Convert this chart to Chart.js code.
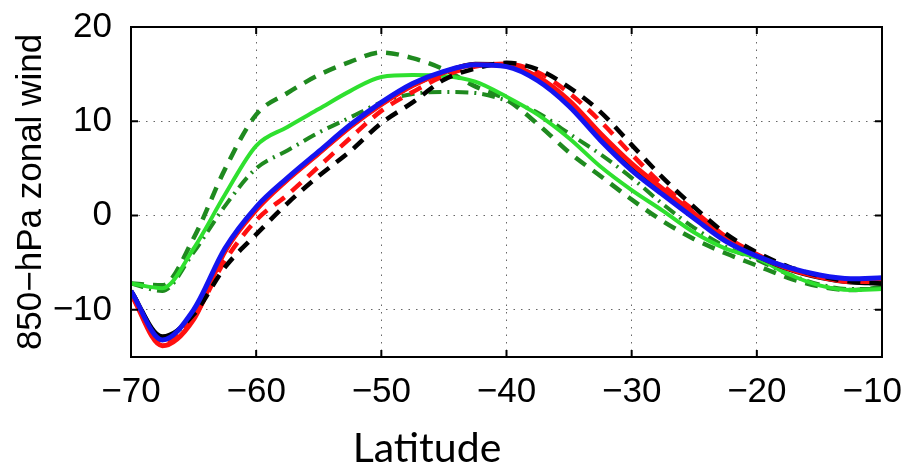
<!DOCTYPE html>
<html>
<head>
<meta charset="utf-8">
<script src="https://cdn.jsdelivr.net/npm/chart.js@4"></script>
<style>
  html, body { margin: 0; padding: 0; background: #fff; }
  #wrap { position: relative; width: 908px; height: 474px; }
  #xtitle {
    position: absolute; left: 427px; top: 422px; transform: translateX(-50%);
    font: 41px Lato, "Open Sans", sans-serif; color: #000; white-space: nowrap;
  }
</style>
</head>
<body>
<div id="wrap">
  <canvas id="chart"></canvas>
  <div id="xtitle">Latitude</div>
</div>
<script>
// latitude grid of the curves
const lat = [-70, -67.5, -65, -62.5, -60, -57.5, -55, -52.5, -50, -47.5, -45, -42.5, -40,
             -37.5, -35, -32.5, -30, -27.5, -25, -22.5, -20, -17.5, -15, -12.5, -10];

const blueSolid  = [-8, -13.2, -10, -3.5, 0.9, 4.0, 6.8, 9.6, 12.0, 14.0, 15.3, 16.0, 15.8, 14.3, 11.6, 8.0, 4.8, 2.2, -0.3, -2.7, -4.3, -5.5, -6.3, -6.7, -6.6];
const redSolid   = [-8.3, -13.8, -11, -3.8, 0.6, 3.8, 6.6, 9.4, 11.8, 13.8, 15.2, 16.0, 15.9, 14.7, 12.2, 8.7, 5.5, 2.8, 0.2, -2.4, -4.2, -5.6, -6.5, -7.0, -7.0];
const blackSolid = [-8, -12.8, -10.3, -3.8, 0.7, 3.8, 6.6, 9.4, 11.8, 13.8, 15.2, 16.1, 16.0, 14.7, 12.1, 8.6, 5.3, 2.6, 0.0, -2.6, -4.3, -5.7, -6.6, -7.1, -7.2];
const blackDash  = [-8, -13.0, -10.5, -5.5, -2.0, 1.3, 4.2, 6.8, 9.8, 12.0, 14.4, 15.6, 16.2, 15.5, 13.6, 11.0, 7.5, 4.0, 0.9, -1.9, -3.9, -5.4, -6.4, -7.0, -7.2];
const redDash    = [-8.3, -13.6, -10.8, -4.8, -0.5, 2.2, 5.2, 8.2, 11.1, 13.1, 14.8, 15.8, 16.1, 15.2, 13.0, 10.0, 6.5, 3.2, 0.5, -2.2, -4.1, -5.6, -6.5, -7.0, -7.0];
const greenSolid = [-7.2, -7.7, -3.5, 2.2, 7.4, 9.4, 11.3, 13.2, 14.7, 14.9, 14.8, 14.2, 12.6, 10.7, 8.2, 5.2, 2.7, 0.5, -1.8, -3.5, -4.5, -6.2, -7.4, -7.9, -7.8];
const greenDash  = [-7.2, -7.4, -2.4, 4.9, 10.7, 13.0, 14.9, 16.3, 17.3, 16.7, 15.5, 13.7, 12.3, 9.7, 6.7, 4.2, 1.7, -0.6, -2.5, -4.0, -5.3, -6.6, -7.5, -7.9, -7.6];
const greenDashDot = [-7.2, -8.0, -3.9, 1.0, 5.0, 6.9, 8.8, 10.4, 12.0, 12.9, 13.1, 13.0, 12.2, 10.9, 8.7, 6.5, 4.0, 1.2, -1.3, -3.3, -4.7, -6.2, -7.3, -7.8, -7.8];

const xTicks = [-70, -60, -50, -40, -30, -20, -10];
const yTicks = [-10, 0, 10, 20];

const pts = arr => lat.map((x, i) => ({ x, y: arr[i] }));
const minus = v => String(v).replace('-', '\u2212');
// last x label sits a bit inside the frame, like the original export
const xLabel = v => v === xTicks[xTicks.length - 1] ? minus(v) + '\u2007' : minus(v);

const line = (data, color, width, dash, order) => ({
    data: pts(data),
    borderColor: color,
    borderWidth: width,
    borderDash: dash,
    borderCapStyle: 'butt',
    pointRadius: 0,
    cubicInterpolationMode: 'monotone',
    fill: false,
    order
});

// matlab style box + inward ticks
const boxPlugin = {
    id: 'box',
    afterDatasetsDraw(chart) {
        const { ctx, chartArea: a, scales } = chart;
        ctx.save();
        ctx.strokeStyle = '#000';
        ctx.lineWidth = 2;
        ctx.beginPath();
        scales.x.ticks.forEach(t => {
            const px = scales.x.getPixelForValue(t.value);
            ctx.moveTo(px, a.bottom); ctx.lineTo(px, a.bottom - 7);
            ctx.moveTo(px, a.top); ctx.lineTo(px, a.top + 7);
        });
        scales.y.ticks.forEach(t => {
            const py = scales.y.getPixelForValue(t.value);
            ctx.moveTo(a.left, py); ctx.lineTo(a.left + 7, py);
            ctx.moveTo(a.right, py); ctx.lineTo(a.right - 7, py);
        });
        ctx.stroke();
        ctx.strokeRect(a.left, a.top, a.right - a.left, a.bottom - a.top);
        ctx.restore();
    }
};

const tickFont = { family: '"Liberation Sans", Arial, sans-serif', size: 35 };
const gridOpts = { color: '#666', lineWidth: 1, drawTicks: false };

new Chart(document.getElementById('chart'), {
    type: 'line',
    data: {
        datasets: [
            line(blueSolid, '#1414f0', 5, [], 1),
            line(blackDash, '#000000', 4.5, [13, 9], 2),
            line(redDash, '#ff1010', 4.5, [13, 9], 3),
            line(redSolid, '#ff1010', 5, [], 4),
            line(blackSolid, '#000000', 4, [], 5),
            line(greenSolid, '#2fe02f', 4, [], 6),
            line(greenDash, '#1f8a1f', 4.5, [13, 9], 7),
            line(greenDashDot, '#1f8a1f', 4, [13, 6, 2, 6], 8)
        ]
    },
    options: {
        responsive: true,
        maintainAspectRatio: false,
        animation: false,
        layout: { padding: { left: 0, right: 26, top: 27, bottom: 70 } },
        plugins: { legend: { display: false }, tooltip: { enabled: false } },
        scales: {
            x: {
                type: 'linear',
                min: -70,
                max: -10,
                grid: { ...gridOpts },
                border: { display: false, dash: [1.5, 6] },
                afterBuildTicks: s => { s.ticks = xTicks.map(value => ({ value })); },
                afterFit: s => { s.height = 47; s.paddingLeft = 0; s.paddingRight = 0; },
                ticks: { font: tickFont, color: '#000', padding: 14, maxRotation: 0, callback: xLabel }
            },
            y: {
                min: -15,
                max: 20,
                grid: { ...gridOpts },
                border: { display: false, dash: [1.5, 6] },
                afterBuildTicks: s => { s.ticks = yTicks.map(value => ({ value })); },
                afterFit: s => { s.width = 131; s.paddingTop = 0; s.paddingBottom = 0; },
                ticks: { font: tickFont, color: '#000', padding: 19, callback: minus },
                title: {
                    display: true,
                    text: '850\u2212hPa zonal wind',
                    font: { family: '"Liberation Sans", Arial, sans-serif', size: 35 },
                    color: '#000',
                    padding: { top: 10, bottom: 0 }
                }
            }
        }
    },
    plugins: [boxPlugin]
});
</script>
</body>
</html>
